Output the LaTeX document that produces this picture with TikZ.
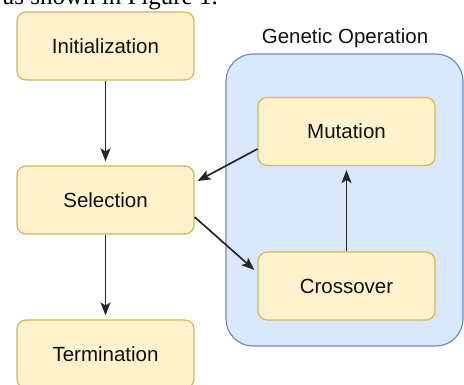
\documentclass[tikz,border=0pt]{standalone}
\usepackage{fontspec}
\setmainfont{Liberation Sans}
\newfontfamily\serifface{Liberation Serif}
\usetikzlibrary{arrows.meta,positioning}
\definecolor{boxfill}{HTML}{FFF2CC}
\definecolor{boxline}{HTML}{D6B656}
\definecolor{grpfill}{HTML}{DAE8FC}
\definecolor{grpline}{HTML}{6C8EBF}
\definecolor{txt}{HTML}{111111}
\begin{document}
\begin{tikzpicture}[x=1pt,y=-1pt,
  stepbox/.style={draw=boxline,fill=boxfill,line width=1.2pt,rounded corners=9pt,
    minimum width=177pt,minimum height=68pt,inner sep=0pt,
    font=\fontsize{20.5}{24}\selectfont,text=txt},
  conn/.style={draw=black!85,line width=1.7pt,-{Stealth[length=13pt,width=10pt,inset=3pt]}}]
\useasboundingbox (0,0) rectangle (464,385);
\clip (0,0) rectangle (464,385);
% cropped text line above
\node[anchor=base east,inner sep=0pt,font=\serifface\fontsize{25}{30}\selectfont] (cap) at (218,4.5) {as shown in Figure 1.};
% group container
\node[draw=grpline,fill=grpfill,line width=1.2pt,rounded corners=27pt,
  minimum width=237pt,minimum height=292pt,inner sep=0pt] (grp) at (344.5,200) {};
\node[font=\fontsize{20.5}{24}\selectfont,text=txt,inner sep=0pt] (grplabel) at (345,38) {Genetic Operation};
% boxes
\node[stepbox] (init) at (105.5,46) {Initialization};
\node[stepbox] (sel) at (105.5,200) {Selection};
\node[stepbox] (term) at (105.5,354) {Termination};
\node[stepbox] (mut) at (346.5,131.5) {Mutation};
\node[stepbox] (cross) at (346.5,286) {Crossover};
% connectors
\draw[conn] (init.south) -- ([yshift=4pt]sel.north);
\draw[conn] (sel.south) -- ([yshift=4pt]term.north);
\draw[conn] ([yshift=-17.5pt]mut.west) -- ([xshift=3pt,yshift=19pt]sel.east);
\draw[conn] ([yshift=-17pt]sel.east) -- ([xshift=-3pt,yshift=16pt]cross.west);
\draw[conn] (cross.north) -- ([yshift=-4pt]mut.south);
\end{tikzpicture}
\end{document}
